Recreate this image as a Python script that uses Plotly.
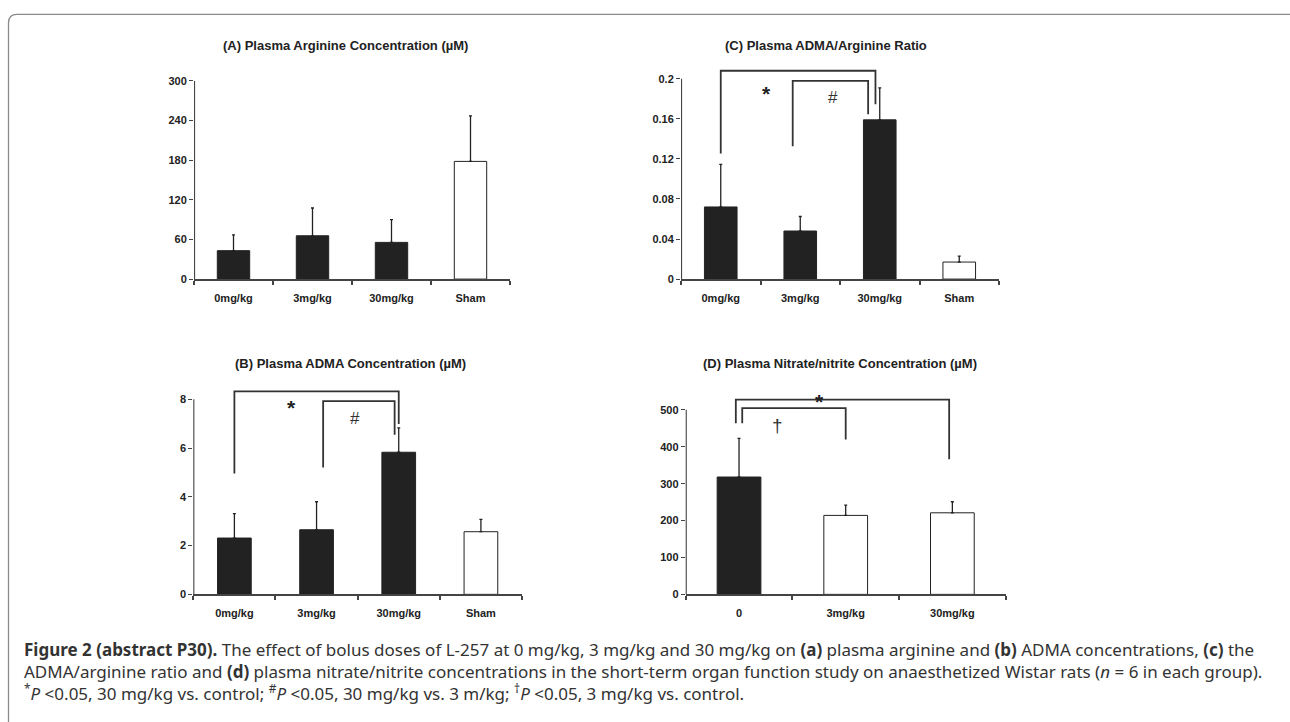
import plotly.graph_objects as go

W, H = 1290, 722

# ---------------- data ----------------
cats_A = ["0mg/kg", "3mg/kg", "30mg/kg", "Sham"]
arg_mean = [43, 65.5, 55.5, 178]
arg_err = [24, 42, 34.5, 69]
arg_colors = ["#222222", "#222222", "#222222", "#ffffff"]

cats_C = ["0mg/kg", "3mg/kg", "30mg/kg", "Sham"]
ratio_mean = [0.072, 0.048, 0.159, 0.017]
ratio_err = [0.0426, 0.0145, 0.032, 0.006]
ratio_colors = ["#222222", "#222222", "#222222", "#ffffff"]

cats_B = ["0mg/kg", "3mg/kg", "30mg/kg", "Sham"]
adma_mean = [2.31, 2.65, 5.83, 2.57]
adma_err = [1.0, 1.15, 1.0, 0.51]
adma_colors = ["#222222", "#222222", "#222222", "#ffffff"]

cats_D = ["0", "3mg/kg", "30mg/kg"]
nox_mean = [318, 214, 221]
nox_err = [105, 27.6, 30]
nox_colors = ["#222222", "#ffffff", "#ffffff"]

# significance brackets (x in category index units, y in data units)
C_br_outer_x = [0, 0, 1.946, 1.946]
C_br_outer_y = [0.1254, 0.208, 0.208, 0.1745]
C_br_inner_x = [0.905, 0.905, 1.854, 1.854]
C_br_inner_y = [0.1326, 0.198, 0.198, 0.1647]
C_marks = [("*", 0.57, 0.1908), ("#", 1.416, 0.181)]

B_br_outer_x = [0, 0, 2.0, 2.0]
B_br_outer_y = [4.96, 8.33, 8.33, 6.99]
B_br_inner_x = [1.08, 1.08, 1.95, 1.95]
B_br_inner_y = [5.2, 7.93, 7.93, 6.55]
B_marks = [("*", 0.69, 7.9), ("#", 1.47, 7.23)]

D_br_outer_x = [-0.03, -0.03, 1.97, 1.97]
D_br_outer_y = [463.6, 528, 528, 366]
D_br_inner_x = [0.03, 0.03, 1.0, 1.0]
D_br_inner_y = [463.6, 505, 505, 420]
D_marks = [("*", 0.75, 539), ("†", 0.36, 457)]

yticks_A = [0, 60, 120, 180, 240, 300]
yticks_C = [0, 0.04, 0.08, 0.12, 0.16, 0.2]
yticks_C_text = ["0", "0.04", "0.08", "0.12", "0.16", "0.2"]
yticks_B = [0, 2, 4, 6, 8]
yticks_D = [0, 100, 200, 300, 400, 500]

titles = {
    "A": "(A) Plasma Arginine Concentration (µM)",
    "C": "(C) Plasma ADMA/Arginine Ratio",
    "B": "(B) Plasma ADMA Concentration (µM)",
    "D": "(D) Plasma Nitrate/nitrite Concentration (µM)",
}

# ---------------- layout geometry (pixels) ----------------
panels = [
    # key, axis suffix, left px, right px, y0 px, ytop px, tickmax, range max
    ("A", "", 194, 510, 277.7, 76, 300, 300),
    ("C", "2", 681, 999, 277.7, 74, 0.2, 0.215),
    ("B", "3", 193.3, 522, 598.3, 400, 8, 8.6),
    ("D", "4", 685.7, 1005.7, 598.3, 410.7, 500, 545),
]

data = {
    "A": (cats_A, arg_mean, arg_err, arg_colors, yticks_A, [str(v) for v in yticks_A]),
    "C": (cats_C, ratio_mean, ratio_err, ratio_colors, yticks_C, yticks_C_text),
    "B": (cats_B, adma_mean, adma_err, adma_colors, yticks_B, [str(v) for v in yticks_B]),
    "D": (cats_D, nox_mean, nox_err, nox_colors, yticks_D, [str(v) for v in yticks_D]),
}
brackets = {
    "C": ([(C_br_outer_x, C_br_outer_y), (C_br_inner_x, C_br_inner_y)], C_marks),
    "B": ([(B_br_outer_x, B_br_outer_y), (B_br_inner_x, B_br_inner_y)], B_marks),
    "D": ([(D_br_outer_x, D_br_outer_y), (D_br_inner_x, D_br_inner_y)], D_marks),
}

INK = "#222222"
AX = "#444444"
fig = go.Figure()
layout = dict(
    width=W, height=H, margin=dict(l=0, r=0, t=0, b=0),
    paper_bgcolor="white", plot_bgcolor="white", showlegend=False,
    bargap=0.59, annotations=[], shapes=[],
)
tickfont = dict(family="Liberation Sans, Arial, sans-serif", size=11, color=INK, weight="bold")

for key, sid, lpx, rpx, y0px, ytpx, tmax, rmax in panels:
    cats, vals, errs, cols, ytv, ytt = data[key]
    n = len(cats)
    xs = list(range(n))
    ppu = (y0px - ytpx) / tmax
    top_px = y0px - rmax * ppu
    xa = "x" + sid
    ya = "y" + sid
    fig.add_trace(go.Bar(
        x=xs, y=vals, xaxis=xa, yaxis=ya,
        marker=dict(color=cols, line=dict(color=INK, width=1)),
        error_y=dict(type="data", array=errs, arrayminus=[0] * n, symmetric=False,
                     color=INK, thickness=1.3, width=1.5),
        hoverinfo="skip",
    ))
    # y axis line from 0 to top tick
    fig.add_trace(go.Scatter(x=[-0.5, -0.5], y=[0, tmax], xaxis=xa, yaxis=ya, mode="lines",
                             line=dict(color=AX, width=2.2), hoverinfo="skip"))
    if key in brackets:
        lines, marks = brackets[key]
        for bx, by in lines:
            fig.add_trace(go.Scatter(x=bx, y=by, xaxis=xa, yaxis=ya, mode="lines",
                                     line=dict(color="#333333", width=1.8), hoverinfo="skip"))
        for txt, mx, my in marks:
            if txt == "*":
                f = dict(family="Liberation Sans, Arial", size=21, color=INK, weight="bold")
                yshift = -6
            elif txt == "#":
                f = dict(family="Liberation Sans, Arial", size=17, color="#333333")
                yshift = 0
            else:
                f = dict(family="Liberation Sans, Arial", size=19, color="#333333")
                yshift = 0
            layout["annotations"].append(dict(x=mx, y=my, xref=xa, yref=ya, text=txt,
                                              showarrow=False, font=f, yshift=yshift))
    axname = "xaxis" + sid
    yname = "yaxis" + sid
    layout[axname] = dict(
        domain=[lpx / W, rpx / W], range=[-0.5, n - 0.5], anchor=ya,
        tickmode="array", tickvals=xs, ticktext=cats, ticks="", showgrid=False,
        zeroline=False, showline=True, linecolor=AX, linewidth=1.5,
        tickfont=tickfont, ticklabelstandoff=8,
        minor=dict(tickmode="array", tickvals=[i - 0.5 for i in range(n + 1)],
                   ticks="outside", ticklen=4, tickcolor=AX, tickwidth=1.5, showgrid=False),
        fixedrange=True,
    )
    layout[yname] = dict(
        domain=[1 - y0px / H, 1 - top_px / H], range=[0, rmax], anchor=xa,
        tickmode="array", tickvals=ytv, ticktext=ytt, ticks="outside", ticklen=4,
        tickcolor=AX, tickwidth=1.3, showgrid=False, zeroline=False, showline=False,
        tickfont=tickfont, fixedrange=True,
    )

# panel titles
title_pos = {"A": (345.5, 40), "C": (825.5, 40), "B": (350, 363.3), "D": (840, 363.3)}
for k, (tx, ty) in title_pos.items():
    layout["annotations"].append(dict(
        x=tx / W, y=1 - ty / H, xref="paper", yref="paper", text=titles[k],
        showarrow=False, xanchor="center", yanchor="middle",
        font=dict(family="Liberation Sans, Arial", size=13, color=INK, weight="bold")))

# caption
cap_font = dict(family="Noto Sans, Open Sans, sans-serif", size=17, color="#333333")
cap_lines = [
    "<b>Figure 2 (abstract P30).</b> The effect of bolus doses of L-257 at 0 mg/kg, 3 mg/kg and 30 mg/kg on "
    "<b>(a)</b> plasma arginine and <b>(b)</b> ADMA concentrations, <b>(c)</b> the",
    "ADMA/arginine ratio and <b>(d)</b> plasma nitrate/nitrite concentrations in the short-term organ function "
    "study on anaesthetized Wistar rats (<i>n</i> = 6 in each group).",
    "<sup>*</sup><i>P</i> &lt;0.05, 30 mg/kg vs. control; <sup>#</sup><i>P</i> &lt;0.05, 30 mg/kg vs. 3 m/kg; "
    "<sup>†</sup><i>P</i> &lt;0.05, 3 mg/kg vs. control.",
]
layout["annotations"].append(dict(
    x=22 / W, y=1 - 677 / H, xref="paper", yref="paper", text="<br>".join(cap_lines),
    showarrow=False, xanchor="left", yanchor="middle", align="left", font=cap_font))

# frame with rounded corner
def px(xp, yp):
    return f"{xp / W:.5f},{1 - yp / H:.5f}"

layout["shapes"].append(dict(
    type="path", xref="paper", yref="paper",
    path=f"M {px(8.5, 740)} L {px(8.5, 17)} Q {px(8.5, 8.5)} {px(17, 8.5)} L {px(1300, 8.5)}",
    line=dict(color="#8a8a8a", width=1.3)))

fig.update_layout(**layout)
fig.write_html("out.html", config={"displayModeBar": False},
               post_script="document.body.style.margin='0';document.body.style.overflow='hidden';")
